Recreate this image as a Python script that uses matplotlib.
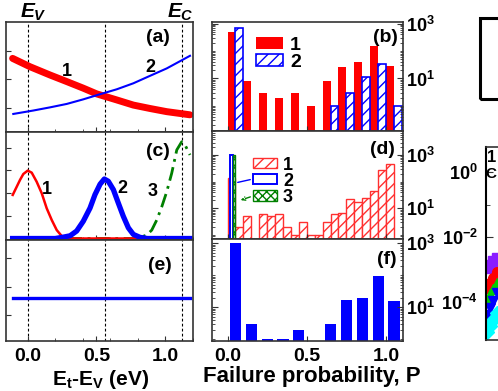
import numpy as np
import matplotlib
matplotlib.use('Agg')
import matplotlib.pyplot as plt
from matplotlib.ticker import FixedLocator, LogLocator, LogFormatterMathtext, MultipleLocator, NullFormatter
from matplotlib.patches import Rectangle, Patch

plt.rcParams['font.family'] = ['Liberation Sans', 'DejaVu Sans']
plt.rcParams['font.weight'] = 'bold'
plt.rcParams['mathtext.fontset'] = 'custom'
plt.rcParams['mathtext.rm'] = 'Liberation Sans:bold'
plt.rcParams['mathtext.it'] = 'Liberation Sans:bold:italic'
plt.rcParams['mathtext.bf'] = 'Liberation Sans:bold'
plt.rcParams['hatch.linewidth'] = 1.0

# ---- trap energy panels (Et - Ev, eV) ----
band_edges = [0.0, 0.56, 1.12]

a_e1 = [-0.11, 0.016, 0.162, 0.284, 0.404, 0.502, 0.647, 0.768, 0.89, 1.011, 1.18]
a_y1 = [2.73, 2.44, 2.15, 1.92, 1.69, 1.49, 1.28, 1.10, 0.98, 0.87, 0.76]
a_e2 = [-0.105, 0.041, 0.162, 0.284, 0.404, 0.513, 0.647, 0.768, 0.889, 1.011, 1.18]
a_y2 = [0.79, 0.91, 1.02, 1.14, 1.30, 1.46, 1.65, 1.86, 2.12, 2.38, 2.82]

c_e1 = [-0.109, -0.080, -0.056, -0.032, 0.0, 0.029, 0.065, 0.102, 0.138, 0.175, 0.211, 0.247, 0.30, 1.18]
c_y1 = [1.92, 2.28, 2.58, 2.84, 2.99, 2.90, 2.50, 1.99, 1.33, 0.81, 0.37, 0.11, 0.0, 0.0]
c_e2 = [-0.11, 0.20, 0.259, 0.308, 0.356, 0.404, 0.453, 0.489, 0.526, 0.557, 0.586, 0.623,
        0.659, 0.695, 0.732, 0.768, 0.817, 0.87, 1.18]
c_y2 = [0, 0, 0.06, 0.12, 0.33, 0.76, 1.34, 1.93, 2.39, 2.62, 2.52, 2.15,
        1.56, 0.98, 0.47, 0.18, 0.05, 0, 0]
c_e3 = [-0.11, 0.78, 0.817, 0.865, 0.902, 0.938, 0.975, 1.011, 1.047, 1.084, 1.12, 1.144, 1.18]
c_y3 = [0, 0, 0.05, 0.15, 0.37, 0.81, 1.40, 2.06, 2.87, 3.90, 4.26, 4.12, 3.68]

e_e = [-0.11, 1.18]
e_y = [1.59, 1.59]

# ---- failure probability histograms ----
b_left = [0.0, 0.1, 0.2, 0.3, 0.4, 0.5, 0.6, 0.7, 0.8, 0.9, 1.0]
b_n1 = [505, 8, 3, 2, 3, 1, 8, 27, 40, 152, 28]
b_n2 = [670, 0, 0, 0, 0, 0, 1, 3, 11, 33, 1]

d_left = [0.0, 0.05, 0.1, 0.15, 0.2, 0.25, 0.3, 0.35, 0.4, 0.45, 0.5,
          0.55, 0.6, 0.65, 0.7, 0.75, 0.8, 0.85, 0.9, 0.95, 1.0]
d_n1 = [143, 2, 5, 0, 6, 5, 6, 2, 1, 3, 1, 1, 3, 6, 7, 22, 17, 25, 45, 277, 465]
d_p2, d_n2 = 0.023, 1000
d_p3, d_n3 = 0.040, 1000

f_center = [0.05, 0.15, 0.25, 0.35, 0.45, 0.55, 0.65, 0.75, 0.85, 0.95, 1.05]
f_n = [1020, 3, 1, 1, 2, 0, 3, 17, 19, 95, 16]

# ---- neighbouring panel (only its left edge is in view) ----
r_x = [0.01, 0.035, 0.06, 0.085]
r_series = [
    ([1.1e-3, 1.4e-3, 1.8e-3, 2.2e-3], '#8a1cff', 's'),
    ([2.7e-4, 3.9e-4, 5.5e-4, 8.3e-4], '#ff0000', 'o'),
    ([1.15e-4, 1.7e-4, 2.5e-4, 3.8e-4], '#00d000', '^'),
    ([4.0e-5, 6.5e-5, 1.1e-4, 1.9e-4], '#0000ff', 'v'),
    ([1.2e-5, 1.8e-5, 2.8e-5, 4.6e-5], '#00ffff', 'D'),
]

W, H = 498, 391
fig = plt.figure(figsize=(W / 100, H / 100), dpi=100)


def box(x0, y0, x1, y1):
    # pixel box (top-left origin) -> figure fraction rect
    return [x0 / W, 1 - y1 / H, (x1 - x0) / W, (y1 - y0) / H]


def ftext(x, y, s, size=13, **kw):
    fig.text(x / W, 1 - y / H, s, ha='center', va='center', fontsize=size,
             fontweight='bold', **kw)


spine_c = '#333333'


def style(ax):
    for s in ax.spines.values():
        s.set_color(spine_c)
        s.set_linewidth(1.2)
    ax.tick_params(direction='in', which='both', colors=spine_c, labelcolor='black',
                   labelsize=13)


# left column
ax_a = fig.add_axes(box(6, 22, 193, 132))
ax_c = fig.add_axes(box(6, 132, 193, 240))
ax_e = fig.add_axes(box(6, 240, 193, 341))

ax_a.plot(a_e1, a_y1, color='red', lw=5, solid_capstyle='round')
ax_a.plot(a_e2, a_y2, color='blue', lw=1.5)
ax_a.set_ylim(0.16, 4.0)
ax_a.set_yticks([1, 2, 3])

ax_c.plot(c_e3, c_y3, color='#008000', lw=2, ls=(0, (5, 2, 1, 2)))
ax_c.plot(c_e1, c_y1, color='red', lw=1.8)
ax_c.plot(c_e2, c_y2, color='blue', lw=3.8)
ax_c.set_ylim(-0.066, 4.69)
ax_c.set_yticks([1, 2, 3, 4])

ax_e.plot(e_e, e_y, color='blue', lw=2.4)
ax_e.set_ylim(0.08, 3.65)
ax_e.set_yticks([1, 2, 3])

for ax in (ax_a, ax_c, ax_e):
    style(ax)
    ax.set_xlim(-0.158, 1.202)
    ax.xaxis.set_major_locator(FixedLocator([0.0, 0.5, 1.0]))
    ax.xaxis.set_minor_locator(MultipleLocator(0.2))
    ax.yaxis.set_major_formatter(NullFormatter())
    for xe in band_edges:
        ax.axvline(xe, color='black', lw=0.8, ls=(0, (2.5, 2)), zorder=0)
    if ax is not ax_e:
        ax.xaxis.set_major_formatter(NullFormatter())

ax_e.set_xticklabels(['0.0', '0.5', '1.0'])
ax_e.tick_params(axis='x', pad=5, labelsize=14)
ax_e.set_xlabel(r'E$_\mathrm{t}$-E$_\mathrm{V}$ (eV)', fontsize=15, fontweight='bold', va='center')
ax_e.xaxis.set_label_coords(0.505, -0.385)

# middle column
ax_b = fig.add_axes(box(212, 22, 403, 131))
ax_d = fig.add_axes(box(212, 131, 403, 239))
ax_f = fig.add_axes(box(212, 239, 403, 341))

ax_b.bar(b_left, b_n1, width=0.05, align='edge', color='red', lw=0, label='1')
ax_b.bar([x + 0.05 for x in b_left], b_n2, width=0.05, align='edge', facecolor='white',
         edgecolor='blue', hatch='///', lw=1.2, label='2')
ax_b.set_ylim(0.123, 1134)

ax_d.bar(d_left, d_n1, width=0.05, align='edge', facecolor='white', edgecolor='#ff3030',
         hatch='///', lw=1.0)
ax_d.bar([d_p2], [d_n2], width=0.02, facecolor='white', edgecolor='blue', lw=1.4)
ax_d.bar([d_p3], [d_n3], width=0.014, facecolor='white', edgecolor='#008000', hatch='xxxx', lw=1.0)
ax_d.set_ylim(0.707, 8130)

ax_f.bar(f_center, f_n, width=0.07, color='blue', lw=0)
ax_f.set_ylim(0.885, 1362)

for ax in (ax_b, ax_d, ax_f):
    style(ax)
    ax.set_yscale('log')
    ax.set_xlim(-0.098, 1.107)
    ax.yaxis.set_major_locator(FixedLocator([10, 1000]))
    ax.yaxis.set_major_formatter(LogFormatterMathtext())
    ax.yaxis.set_minor_locator(LogLocator(base=10, subs=np.arange(1, 10), numticks=20))
    ax.yaxis.set_minor_formatter(NullFormatter())
    ax.tick_params(axis='y', which='both', left=True, right=True, labelleft=False,
                   labelright=True, pad=2)
    ax.tick_params(axis='y', which='major', length=4)
    ax.tick_params(axis='y', which='minor', length=2)
    ax.xaxis.set_major_locator(FixedLocator([0.0, 0.5, 1.0]))
    if ax is not ax_f:
        ax.xaxis.set_major_formatter(NullFormatter())

ax_f.set_xticklabels(['0.0', '0.5', '1.0'])
ax_f.tick_params(axis='x', pad=5, labelsize=14)
ax_f.set_xlabel('Failure probability, P', fontsize=16, fontweight='bold', va='center')
ax_f.xaxis.set_label_coords(0.52, -0.35)

ax_b.legend(loc='upper left', bbox_to_anchor=(0.16, 0.99), frameon=False, fontsize=14,
            handlelength=1.4, handleheight=0.55, handletextpad=0.35, labelspacing=0.0,
            borderpad=0.2)

d_handles = [Patch(facecolor='white', edgecolor='#ff3030', hatch='///', lw=1.0, label='1'),
             Patch(facecolor='white', edgecolor='blue', lw=1.4, label='2'),
             Patch(facecolor='white', edgecolor='#008000', hatch='xxxx', lw=1.0, label='3')]
ax_d.legend(handles=d_handles, loc='upper left', bbox_to_anchor=(0.15, 0.88), frameon=False,
            fontsize=13, handlelength=1.3, handleheight=0.5, handletextpad=0.35,
            labelspacing=-0.05, borderpad=0.2)
ax_d.annotate('', xy=(235 / W, 1 - 183 / H), xytext=(253 / W, 1 - 179 / H),
              xycoords='figure fraction', textcoords='figure fraction',
              arrowprops=dict(arrowstyle='-', color='blue', lw=1.0))
ax_d.annotate('', xy=(238 / W, 1 - 201 / H), xytext=(253 / W, 1 - 196 / H),
              xycoords='figure fraction', textcoords='figure fraction',
              arrowprops=dict(arrowstyle='->', color='#008000', lw=1.0, ls='--',
                              mutation_scale=6))

# neighbouring log panel, mostly outside the canvas
ax_r = fig.add_axes(box(486, 147, 610, 340))
for vals, col, mk in r_series:
    ax_r.plot(r_x, vals, ls='none', marker=mk, color=col, ms=7)
ax_r.set_yscale('log')
ax_r.set_xlim(0, 1)
ax_r.set_ylim(10 ** -5.17, 10 ** 0.77)
style(ax_r)
ax_r.spines['left'].set_color('black')
ax_r.spines['left'].set_linewidth(1.5)
ax_r.yaxis.set_major_locator(FixedLocator([1, 1e-2, 1e-4]))
ax_r.yaxis.set_major_formatter(LogFormatterMathtext())
ax_r.yaxis.set_minor_locator(FixedLocator([1e-1, 1e-3, 1e-5]))
ax_r.yaxis.set_minor_formatter(NullFormatter())
ax_r.tick_params(axis='y', which='major', length=5, pad=6)
ax_r.tick_params(axis='y', which='minor', length=3)
ax_r.set_xticks([])
ftext(492, 157, '1', size=12)
ftext(491, 174, 'C', size=11)

# framed box to the upper right
fig.add_artist(Rectangle((480 / W, 1 - 99 / H), 0.2, 81 / H, fill=False, lw=2.2,
                         ec='black', transform=fig.transFigure))

# panel tags and curve numbers
ftext(33, 12, r'$E_V$', size=15)
ftext(180, 12, r'$E_C$', size=15)
ftext(158, 37, '(a)', size=14)
ftext(67, 72, '1', size=13)
ftext(150, 67, '2', size=13)
ftext(158, 152, '(c)', size=14)
ftext(47, 190, '1', size=13)
ftext(122, 188, '2', size=13)
ftext(153, 192, '3', size=13)
ftext(160, 265, '(e)', size=14)
ftext(385, 37, '(b)', size=14)
ftext(382, 150, '(d)', size=14)
ftext(387, 260, '(f)', size=14)

fig.savefig('out.png', dpi=100)
